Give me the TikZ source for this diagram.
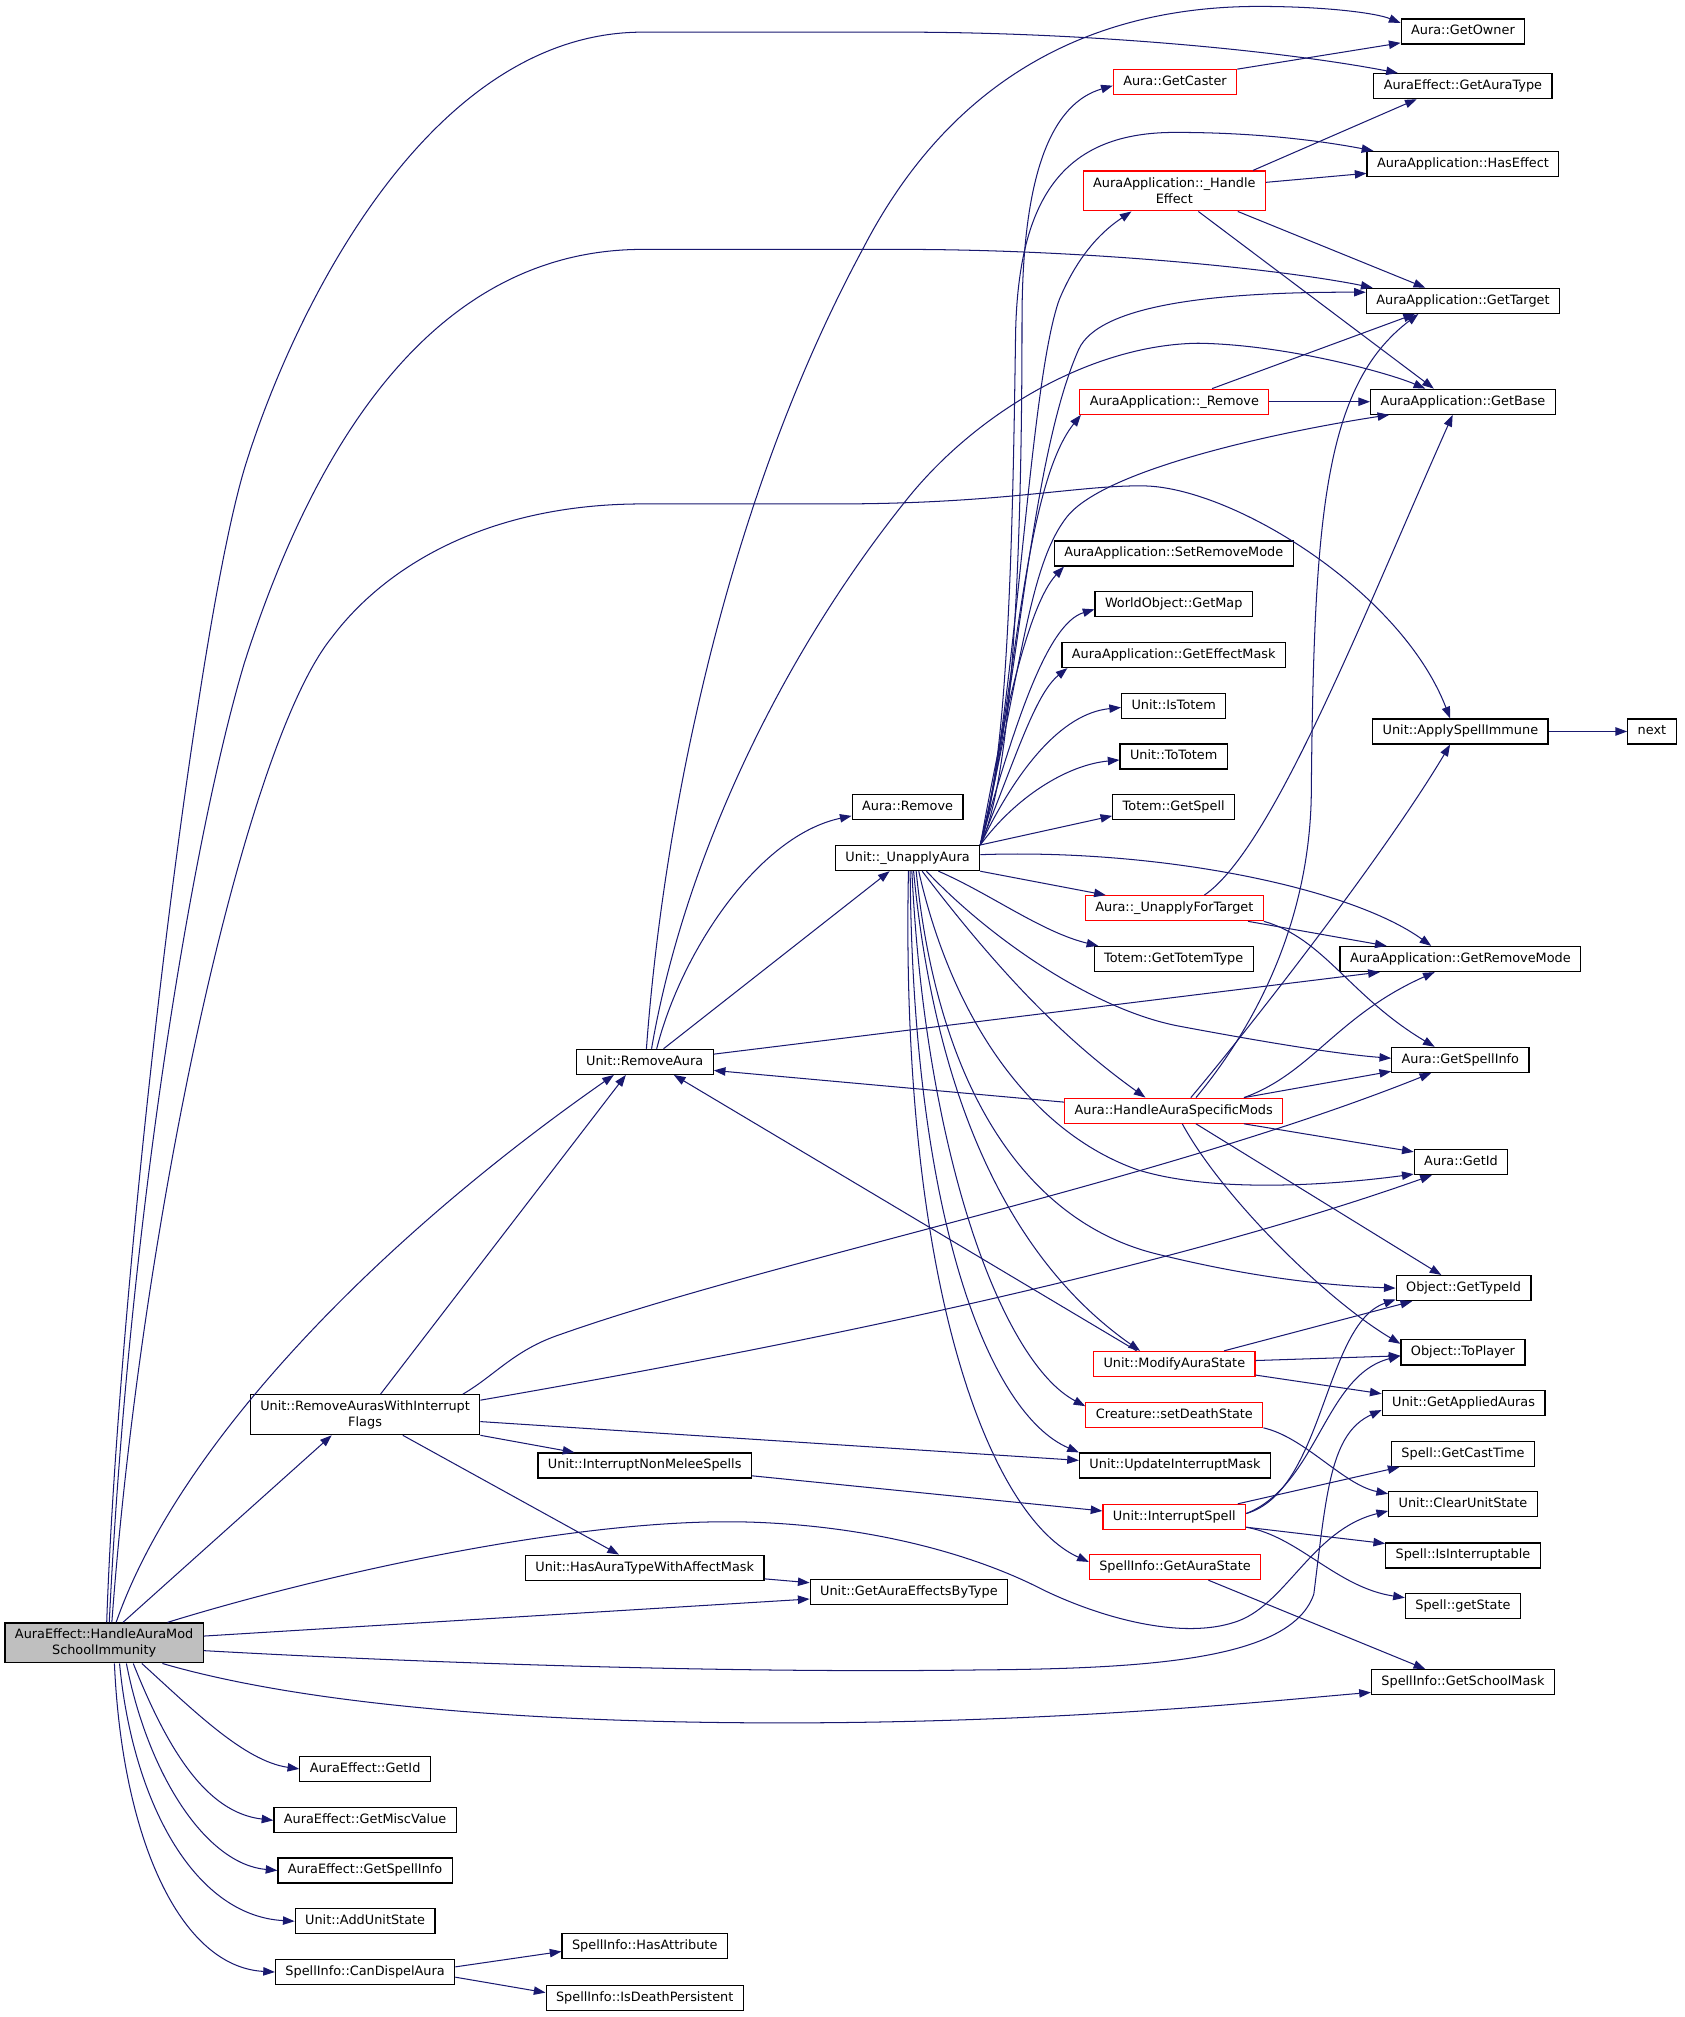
\documentclass[tikz,border=0pt]{standalone}
\usepackage{fontspec}
\usepackage{xcolor}
\usetikzlibrary{arrows.meta}
\newfontfamily\fnfont{DejaVu Sans}
\newcommand{\callfont}{\fnfont\fontsize{7.5pt}{9pt}\selectfont}
\definecolor{edgeblue}{HTML}{191970}
\definecolor{rootgray}{HTML}{BFBFBF}
\definecolor{graphred}{HTML}{FF0000}
\tikzset{
  fnbox/.style={draw=black, line width=0.7pt, rectangle, inner xsep=5.8pt, inner ysep=0pt, font=\callfont, text=black},
  fn/.style={fnbox, minimum height=14.6pt, text height=5.6pt, text depth=1.6pt},
  fnred/.style={fn, draw=graphred},
  fntwo/.style={fnbox, align=center, minimum height=23.3pt},
  fntwored/.style={fntwo, draw=graphred},
  call/.style={draw=edgeblue, line width=0.6pt, -{Triangle[length=6.8pt,width=4.9pt]}}
}
\begin{document}
\begin{tikzpicture}[x=0.75pt,y=-0.75pt]
\useasboundingbox (0,0) rectangle (1310,1569);

\node[fntwo, fill=rootgray] (root) at (81,1278) {AuraEffect::HandleAuraMod\\SchoolImmunity};
\node[fn] (getowner) at (1138,24.5) {Aura::GetOwner};
\node[fn] (getauratype) at (1138,67) {AuraEffect::GetAuraType};
\node[fnred] (getcaster) at (914,64) {Aura::GetCaster};
\node[fn] (haseffect) at (1138,127.5) {AuraApplication::HasEffect};
\node[fntwored] (handleeff) at (913.5,148.5) {AuraApplication::\_Handle\\Effect};
\node[fn] (gettarget) at (1138,234) {AuraApplication::GetTarget};
\node[fnred] (appremove) at (913.5,312.5) {AuraApplication::\_Remove};
\node[fn] (getbase) at (1138,312.5) {AuraApplication::GetBase};
\node[fn] (setremovemode) at (913,430.5) {AuraApplication::SetRemoveMode};
\node[fn] (getmap) at (913,470) {WorldObject::GetMap};
\node[fn] (geteffectmask) at (913,509.5) {AuraApplication::GetEffectMask};
\node[fn] (istotem) at (913,549) {Unit::IsTotem};
\node[fn] (tototem) at (913,588.5) {Unit::ToTotem};
\node[fn] (totemspell) at (913,628) {Totem::GetSpell};
\node[fn] (auraremove) at (706,628) {Aura::Remove};
\node[fn] (unapply) at (706,667.5) {Unit::\_UnapplyAura};
\node[fn] (spellimmune) at (1136,569) {Unit::ApplySpellImmune};
\node[fn] (nextfn) at (1285,569) {next};
\node[fnred] (unapplytarget) at (913.5,706.5) {Aura::\_UnapplyForTarget};
\node[fn] (totemtype) at (913,746) {Totem::GetTotemType};
\node[fn] (getremovemode) at (1136,746) {AuraApplication::GetRemoveMode};
\node[fn] (removeaura) at (501.5,826) {Unit::RemoveAura};
\node[fn] (spellinfo) at (1136,824.5) {Aura::GetSpellInfo};
\node[fnred] (specificmods) at (913,864) {Aura::HandleAuraSpecificMods};
\node[fn] (auraid) at (1136.5,904) {Aura::GetId};
\node[fn] (typeid) at (1138.5,1002) {Object::GetTypeId};
\node[fn] (toplayer) at (1138,1052) {Object::ToPlayer};
\node[fnred] (modifystate) at (913.5,1061) {Unit::ModifyAuraState};
\node[fn] (appliedauras) at (1138.5,1091.5) {Unit::GetAppliedAuras};
\node[fnred] (deathstate) at (913.5,1100.5) {Creature::setDeathState};
\node[fntwo] (removeflags) at (284,1100.5) {Unit::RemoveAurasWithInterrupt\\Flags};
\node[fn] (casttime) at (1138,1131) {Spell::GetCastTime};
\node[fn] (nonmelee) at (501.5,1140) {Unit::InterruptNonMeleeSpells};
\node[fn] (interruptmask) at (914,1140) {Unit::UpdateInterruptMask};
\node[fn] (clearstate) at (1138,1170) {Unit::ClearUnitState};
\node[fnred] (interruptspell) at (913.5,1180) {Unit::InterruptSpell};
\node[fn] (interruptable) at (1138,1210) {Spell::IsInterruptable};
\node[fn] (hasaffectmask) at (501.5,1219.5) {Unit::HasAuraTypeWithAffectMask};
\node[fnred] (aurastate) at (914,1219) {SpellInfo::GetAuraState};
\node[fn] (effectsbytype) at (707,1238.5) {Unit::GetAuraEffectsByType};
\node[fn] (spellstate) at (1138,1249.5) {Spell::getState};
\node[fn] (schoolmask) at (1138,1308.5) {SpellInfo::GetSchoolMask};
\node[fn] (effid) at (284,1376) {AuraEffect::GetId};
\node[fn] (miscvalue) at (284,1416) {AuraEffect::GetMiscValue};
\node[fn] (effspellinfo) at (284,1455) {AuraEffect::GetSpellInfo};
\node[fn] (addstate) at (284,1494.5) {Unit::AddUnitState};
\node[fn] (candispel) at (284,1534) {SpellInfo::CanDispelAura};
\node[fn] (hasattr) at (501.5,1514) {SpellInfo::HasAttribute};
\node[fn] (deathpersist) at (501.5,1554) {SpellInfo::IsDeathPersistent};

\draw[call] ([xshift=1.5pt]root.north) .. controls (92,1000) and (150,500) .. (190,365) .. controls (225,250) and (330,25) .. (500,25) -- (700,25) .. controls (850,25) and (1000,40) .. ([xshift=-38pt]getauratype.north);
\draw[call] ([xshift=3pt]root.north) .. controls (100,950) and (150,650) .. (190,516) .. controls (240,360) and (330,194) .. (500,194) -- (700,194) .. controls (850,194) and (1000,210) .. ([xshift=4pt]gettarget.north west);
\draw[call] ([xshift=4.5pt]root.north) .. controls (110,950) and (190,580) .. (258,496) .. controls (300,440) and (380,392) .. (500,392) -- (650,392) .. controls (780,392) and (840,377) .. (891,378) .. controls (960,380) and (1090,460) .. ([xshift=-6pt]spellimmune.north);
\draw[call] ([xshift=7pt]root.north) .. controls (140,1120) and (300,960) .. ([xshift=-18pt]removeaura.south);
\draw[call] ([xshift=11pt]root.north) -- ([xshift=-19.5pt]removeflags.south);
\draw[call] ([xshift=37pt]root.north) .. controls (250,1225) and (450,1180) .. (583,1184) .. controls (680,1187) and (760,1210) .. (812,1237) .. controls (860,1260) and (920,1275) .. (960,1262) .. controls (1000,1250) and (1020,1190) .. ([yshift=-4pt]clearstate.west);
\draw[call] ([yshift=4pt]root.east) -- ([yshift=-4pt]effectsbytype.west);
\draw[call] ([yshift=-4.5pt]root.east) .. controls (300,1292) and (550,1302) .. (762,1299) .. controls (900,1298) and (1005,1290) .. (1022,1240) .. controls (1032,1160) and (1035,1115) .. ([yshift=-4pt]appliedauras.west);
\draw[call] ([xshift=34pt]root.south) .. controls (250,1330) and (450,1342) .. (650,1340) .. controls (850,1338) and (1000,1322) .. ([yshift=-6pt]schoolmask.west);
\draw[call] ([xshift=22pt]root.south) .. controls (150,1330) and (190,1370) .. (effid.west);
\draw[call] ([xshift=17pt]root.south) .. controls (130,1360) and (160,1410) .. (miscvalue.west);
\draw[call] ([xshift=13pt]root.south) .. controls (115,1380) and (160,1450) .. (effspellinfo.west);
\draw[call] ([xshift=9pt]root.south) .. controls (103,1400) and (150,1490) .. (addstate.west);
\draw[call] ([xshift=6pt]root.south) .. controls (95,1430) and (140,1530) .. (candispel.west);

\draw[call] ([xshift=9pt]removeflags.north) -- ([xshift=-11pt]removeaura.south);
\draw[call] ([xshift=57pt]removeflags.north) .. controls (385,1070) and (400,1050) .. (436,1038) .. controls (600,980) and (900,920) .. ([xshift=-17pt]spellinfo.south);
\draw[call] ([yshift=8.5pt]removeflags.east) .. controls (600,1050) and (900,990) .. ([xshift=-17pt]auraid.south);
\draw[call] ([yshift=-4pt]removeflags.east) -- ([yshift=3pt]interruptmask.west);
\draw[call] (removeflags.south east) -- ([xshift=-41pt]nonmelee.north);
\draw[call] ([xshift=22pt]removeflags.south) -- ([xshift=-15pt]hasaffectmask.north);
\draw[call] ([yshift=-6pt]nonmelee.east) -- ([yshift=3.5pt]interruptspell.west);
\draw[call] ([yshift=-6.5pt]hasaffectmask.east) -- ([yshift=5.5pt]effectsbytype.west);

\draw[call] ([xshift=1pt]removeaura.north) .. controls (515,650) and (560,400) .. (671,194) .. controls (740,60) and (850,5) .. (979,5) .. controls (1030,5) and (1070,10) .. ([yshift=5pt]getowner.west);
\draw[call] ([xshift=4pt]removeaura.north) .. controls (530,680) and (600,520) .. (705,389) .. controls (760,320) and (850,268) .. (932,267) .. controls (1000,268) and (1080,290) .. ([xshift=-22pt]getbase.north);
\draw[call] ([xshift=7pt]removeaura.north) .. controls (530,740) and (590,650) .. ([yshift=-5pt]auraremove.west);
\draw[call] ([xshift=11pt]removeaura.north) -- ([xshift=-10.5pt]unapply.south);
\draw[call] ([yshift=4.5pt]removeaura.east) -- ([xshift=-47pt]getremovemode.south);

\draw[call] (unapply.north east) .. controls (790,600) and (795,400) .. (795,250) .. controls (795,130) and (820,80) .. ([yshift=-2pt]getcaster.west);
\draw[call] (unapply.north east) .. controls (785,590) and (788,400) .. (790,260) .. controls (792,150) and (830,103) .. (914,103) .. controls (980,103) and (1030,110) .. ([xshift=4pt]haseffect.north west);
\draw[call] (unapply.north east) .. controls (790,560) and (800,300) .. (824,233) .. controls (840,195) and (860,178) .. ([xshift=-25pt]handleeff.south);
\draw[call] (unapply.north east) .. controls (790,560) and (800,360) .. (839,272) .. controls (855,236) and (950,227) .. ([yshift=5pt]gettarget.west);
\draw[call] (unapply.north east) .. controls (790,550) and (795,380) .. ([xshift=1pt]appremove.south west);
\draw[call] (unapply.north east) .. controls (795,520) and (800,440) .. (830,402) .. controls (860,364) and (1000,335) .. ([xshift=-43pt]getbase.south);
\draw[call] (unapply.north east) .. controls (780,560) and (800,470) .. ([xshift=-64pt]setremovemode.south);
\draw[call] (unapply.north east) .. controls (790,560) and (815,485) .. ([yshift=-3pt]getmap.west);
\draw[call] (unapply.north east) .. controls (790,590) and (805,540) .. ([xshift=-62pt]geteffectmask.south);
\draw[call] (unapply.north east) .. controls (790,600) and (825,555) .. ([yshift=-1pt]istotem.west);
\draw[call] (unapply.north east) .. controls (790,620) and (830,595) .. ([yshift=-2pt]tototem.west);
\draw[call] (unapply.north east) -- ([yshift=-5pt]totemspell.west);

\draw[call] (unapply.south east) -- ([xshift=-40pt]unapplytarget.north);
\draw[call] ([xshift=18pt]unapply.south) .. controls (770,695) and (810,725) .. ([xshift=-44pt]totemtype.north);
\draw[call] ([yshift=2pt]unapply.east) .. controls (900,660) and (1050,690) .. ([xshift=-17pt]getremovemode.north);
\draw[call] ([xshift=11pt]unapply.south) .. controls (770,730) and (850,785) .. (916,798) .. controls (980,810) and (1040,820) .. ([yshift=1pt]spellinfo.west);
\draw[call] ([xshift=8.5pt]unapply.south) .. controls (780,760) and (830,810) .. ([xshift=-16.5pt]specificmods.north);
\draw[call] ([xshift=6.5pt]unapply.south) .. controls (740,790) and (800,880) .. (885,910) .. controls (950,930) and (1050,920) .. ([yshift=-7pt]auraid.west);
\draw[call] ([xshift=5pt]unapply.south) .. controls (730,850) and (800,950) .. (898,975) .. controls (970,993) and (1030,1000) .. (typeid.west);
\draw[call] ([xshift=3.5pt]unapply.south) .. controls (730,880) and (800,990) .. ([xshift=-20pt]modifystate.north);
\draw[call] ([xshift=2.5pt]unapply.south) .. controls (720,900) and (780,1060) .. ([yshift=5pt]deathstate.west);
\draw[call] ([xshift=1.5pt]unapply.south) .. controls (710,950) and (770,1100) .. (interruptmask.north west);
\draw[call] ([xshift=0.5pt]unapply.south) .. controls (700,1000) and (770,1180) .. ([yshift=3pt]aurastate.west);

\draw[call] ([xshift=-22pt]modifystate.north) -- ([xshift=17pt]removeaura.south);
\draw[call] (getcaster.north east) -- ([yshift=1pt]getowner.south west);
\draw[call] ([xshift=46pt]handleeff.north) -- ([xshift=-27pt]getauratype.south);
\draw[call] ([yshift=5pt]handleeff.east) -- ([yshift=-5.5pt]haseffect.west);
\draw[call] ([xshift=37pt]handleeff.south) -- ([xshift=-22pt]gettarget.north);
\draw[call] ([xshift=14pt]handleeff.south) -- ([xshift=-17pt]getbase.north);
\draw[call] ([xshift=22pt]appremove.north) -- ([xshift=-28pt]gettarget.south);
\draw[call] (appremove.east) -- (getbase.west);
\draw[call] ([xshift=17.5pt]unapplytarget.north) .. controls (990,660) and (1060,480) .. ([xshift=-6pt]getbase.south);
\draw[call] ([xshift=43pt]unapplytarget.south) -- ([xshift=-43pt]getremovemode.north);
\draw[call] (unapplytarget.south east) .. controls (1030,730) and (1050,775) .. ([xshift=-15pt]spellinfo.north);

\draw[call] ([yshift=5pt]specificmods.west) -- ([yshift=-5pt]removeaura.east);
\draw[call] ([xshift=13pt]specificmods.north) .. controls (975,800) and (1018,720) .. (1020,620) .. controls (1022,400) and (1030,300) .. ([xshift=-26pt]gettarget.south);
\draw[call] ([xshift=10pt]specificmods.north) .. controls (980,790) and (1080,660) .. ([xshift=-6pt]spellimmune.south);
\draw[call] ([xshift=41pt]specificmods.north) .. controls (1020,835) and (1040,790) .. ([xshift=-15pt]getremovemode.south);
\draw[call] ([xshift=41pt]specificmods.north) -- ([yshift=1pt]spellinfo.south west);
\draw[call] ([xshift=41pt]specificmods.south) -- ([yshift=6pt]auraid.west);
\draw[call] ([xshift=13pt]specificmods.south) -- ([xshift=-13pt]typeid.north);
\draw[call] ([xshift=5pt]specificmods.south) .. controls (950,930) and (1030,1010) .. ([yshift=5pt]toplayer.west);

\draw[call] ([xshift=29pt]modifystate.north) -- ([xshift=-30pt]typeid.south);
\draw[call] ([yshift=2pt]modifystate.east) -- ([yshift=-2pt]toplayer.west);
\draw[call] ([yshift=-6.5pt]modifystate.east) -- ([yshift=5.5pt]appliedauras.west);
\draw[call] (deathstate.south east) .. controls (1015,1118) and (1045,1155) .. ([yshift=6pt]clearstate.west);

\draw[call] ([yshift=2pt]interruptspell.east) .. controls (1030,1160) and (1030,1030) .. ([yshift=1pt]typeid.south west);
\draw[call] ([yshift=2pt]interruptspell.east) .. controls (1025,1155) and (1030,1070) .. ([yshift=-2pt]toplayer.west);
\draw[call] ([xshift=37pt]interruptspell.north) -- ([xshift=-37pt]casttime.south);
\draw[call] ([yshift=-6pt]interruptspell.east) -- ([yshift=7pt]interruptable.west);
\draw[call] ([yshift=-6pt]interruptspell.east) .. controls (1010,1195) and (1040,1235) .. ([yshift=5pt]spellstate.west);

\draw[call] ([xshift=19.5pt]aurastate.south) -- ([xshift=-22pt]schoolmask.north);
\draw[call] (spellimmune.east) -- (nextfn.west);
\draw[call] ([yshift=3pt]candispel.east) -- ([yshift=-3pt]hasattr.west);
\draw[call] ([yshift=-3pt]candispel.east) -- ([yshift=3pt]deathpersist.west);
\end{tikzpicture}
\end{document}
